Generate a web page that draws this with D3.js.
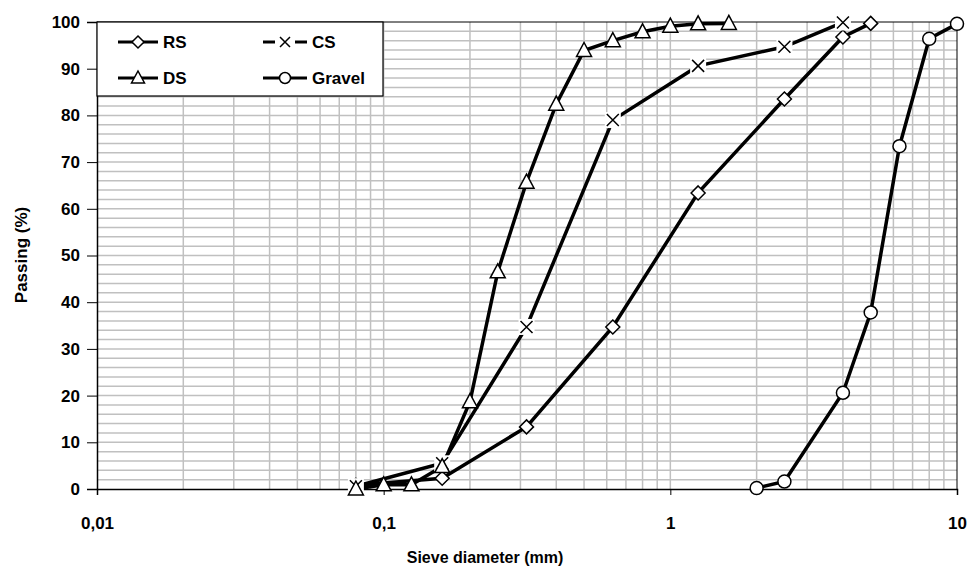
<!DOCTYPE html>
<html><head><meta charset="utf-8">
<script src="https://cdn.jsdelivr.net/npm/d3@7"></script>
<style>body{margin:0;background:#fff}svg text{font-family:"Liberation Sans",Arial,sans-serif;font-weight:bold}</style>
</head><body><svg id="c" width="969" height="571"></svg>
<script>
const rsX = [0.08, 0.16, 0.315, 0.63, 1.25, 2.5, 4, 5];
const rsY = [0.8, 2.3, 13.3, 34.7, 63.4, 83.5, 96.8, 99.7];
const csX = [0.08, 0.16, 0.315, 0.63, 1.25, 2.5, 4];
const csY = [0.6, 5.5, 34.7, 79, 90.6, 94.7, 99.9];
const dsX = [0.08, 0.1, 0.125, 0.16, 0.2, 0.25, 0.315, 0.4, 0.5, 0.63, 0.8, 1, 1.25, 1.6];
const dsY = [0, 0.9, 0.9, 4.8, 18.7, 46.5, 65.7, 82.4, 93.9, 96.0, 97.9, 99.1, 99.6, 99.7];
const grX = [2, 2.5, 4, 5, 6.3, 8, 10];
const grY = [0.2, 1.6, 20.6, 37.8, 73.4, 96.4, 99.6];
const xTicks = [0.01, 0.1, 1, 10];
const xTickLabels = ["0,01", "0,1", "1", "10"];
const yTicks = [0, 10, 20, 30, 40, 50, 60, 70, 80, 90, 100];
const seriesNames = ["RS", "CS", "DS", "Gravel"];

const svg = d3.select("#c");
const L = 97, R = 957, T = 22, B = 489;
const x = d3.scaleLog().domain([0.01, 10]).range([L, R]);
const y = d3.scaleLinear().domain([0, 100]).range([B, T]);

// grid
const g = svg.append("g");
const minorX = [];
[0.01, 0.1, 1].forEach(d => { for (let k = 1; k <= 9; k++) minorX.push(d * k); });
g.selectAll(".vx").data(minorX.filter(v => v > 0.01)).enter().append("line")
  .attr("x1", d => x(d)).attr("x2", d => x(d)).attr("y1", T).attr("y2", B)
  .attr("stroke", "#c0c0c0").attr("stroke-width", 1.5);
g.selectAll(".hy").data(d3.range(2, 100, 2)).enter().append("line")
  .attr("x1", L).attr("x2", R).attr("y1", d => y(d)).attr("y2", d => y(d))
  .attr("stroke", "#c0c0c0").attr("stroke-width", 1.5);

// border
svg.append("line").attr("x1", L).attr("x2", R).attr("y1", T).attr("y2", T).attr("stroke", "#000");
svg.append("line").attr("x1", R).attr("x2", R).attr("y1", T).attr("y2", B).attr("stroke", "#000");

// axes
const yAxis = d3.axisLeft(y).tickValues(yTicks).tickSize(10).tickPadding(7).tickFormat(d3.format("d"));
const ya = svg.append("g").attr("transform", `translate(${L},0)`).call(yAxis);
ya.select(".domain").attr("stroke-width", 1.5);
ya.selectAll("text").attr("font-size", 17).attr("fill", "#000").attr("font-family", "Liberation Sans").attr("font-weight", "bold");
const xAxis = d3.axisBottom(x).tickValues(xTicks).tickSize(6).tickPadding(22).tickFormat((d, i) => xTickLabels[i]);
const xa = svg.append("g").attr("transform", `translate(0,${B})`).call(xAxis);
xa.select(".domain").attr("stroke-width", 1.5);
xa.selectAll("text").attr("font-size", 17).attr("fill", "#000").attr("font-family", "Liberation Sans").attr("font-weight", "bold");

svg.append("text").attr("x", 485).attr("y", 563).attr("text-anchor", "middle").attr("font-size", 16).text("Sieve diameter (mm)");
svg.append("text").attr("transform", "translate(27,255) rotate(-90)").attr("text-anchor", "middle").attr("font-size", 17).text("Passing (%)");

// markers
function marker(sel, type) {
  if (type === "diamond") {
    sel.append("path").attr("d", "M0,-7L7,0L0,7L-7,0Z").attr("fill", "#fff").attr("stroke", "#000").attr("stroke-width", 1.5);
  } else if (type === "triangle") {
    sel.append("path").attr("d", "M0,-8L7.5,6L-7.5,6Z").attr("fill", "#fff").attr("stroke", "#000").attr("stroke-width", 1.5);
  } else if (type === "circle") {
    sel.append("circle").attr("r", 6.5).attr("fill", "#fff").attr("stroke", "#000").attr("stroke-width", 1.5);
  } else if (type === "x") {
    sel.append("rect").attr("x", -8).attr("y", -8).attr("width", 16).attr("height", 16).attr("fill", "#fff");
    sel.append("path").attr("d", "M-6,-6L6,6M-6,6L6,-6").attr("stroke", "#000").attr("stroke-width", 1.5);
  }
}

const line = d3.line().x(d => x(d[0])).y(d => y(d[1]));
const series = [
  { xs: rsX, ys: rsY, m: "diamond" },
  { xs: csX, ys: csY, m: "x" },
  { xs: dsX, ys: dsY, m: "triangle" },
  { xs: grX, ys: grY, m: "circle" }
];
series.forEach(s => {
  const pts = s.xs.map((v, i) => [v, s.ys[i]]);
  svg.append("path").attr("d", line(pts)).attr("fill", "none").attr("stroke", "#000").attr("stroke-width", 3.5);
});
series.forEach(s => {
  const pts = s.xs.map((v, i) => [v, s.ys[i]]);
  svg.selectAll(null).data(pts).enter().append("g")
    .attr("transform", d => `translate(${x(d[0])},${y(d[1])})`)
    .each(function () { marker(d3.select(this), s.m); });
});

// legend
const lg = svg.append("g");
lg.append("rect").attr("x", L).attr("y", T).attr("width", 286).attr("height", 74).attr("fill", "#fff").attr("stroke", "#000").attr("stroke-width", 1.2);
const legPos = [[118, 42, "diamond", 40], [263, 42, "x", 44], [118, 78, "triangle", 40], [263, 78, "circle", 44]];
legPos.forEach((p, i) => {
  const [lx, ly, m, w] = p;
  if (m === "x") {
    lg.append("line").attr("x1", lx).attr("x2", lx + 12).attr("y1", ly).attr("y2", ly).attr("stroke", "#000").attr("stroke-width", 3);
    lg.append("line").attr("x1", lx + w - 12).attr("x2", lx + w).attr("y1", ly).attr("y2", ly).attr("stroke", "#000").attr("stroke-width", 3);
  } else {
    lg.append("line").attr("x1", lx).attr("x2", lx + w).attr("y1", ly).attr("y2", ly).attr("stroke", "#000").attr("stroke-width", 3);
  }
  const mg = lg.append("g").attr("transform", `translate(${lx + w / 2},${ly})`);
  if (m === "x") mg.append("path").attr("d", "M-5,-5L5,5M-5,5L5,-5").attr("stroke", "#000").attr("stroke-width", 1.5);
  else if (m === "diamond") mg.append("path").attr("d", "M0,-6L6,0L0,6L-6,0Z").attr("fill", "#fff").attr("stroke", "#000").attr("stroke-width", 1.5);
  else if (m === "triangle") mg.append("path").attr("d", "M0,-7L6.5,5L-6.5,5Z").attr("fill", "#fff").attr("stroke", "#000").attr("stroke-width", 1.5);
  else mg.append("circle").attr("r", 5.5).attr("fill", "#fff").attr("stroke", "#000").attr("stroke-width", 1.5);
  lg.append("text").attr("x", lx + w + 5).attr("y", ly + 6).attr("font-size", 17).text(seriesNames[i]);
});
</script></body></html>
